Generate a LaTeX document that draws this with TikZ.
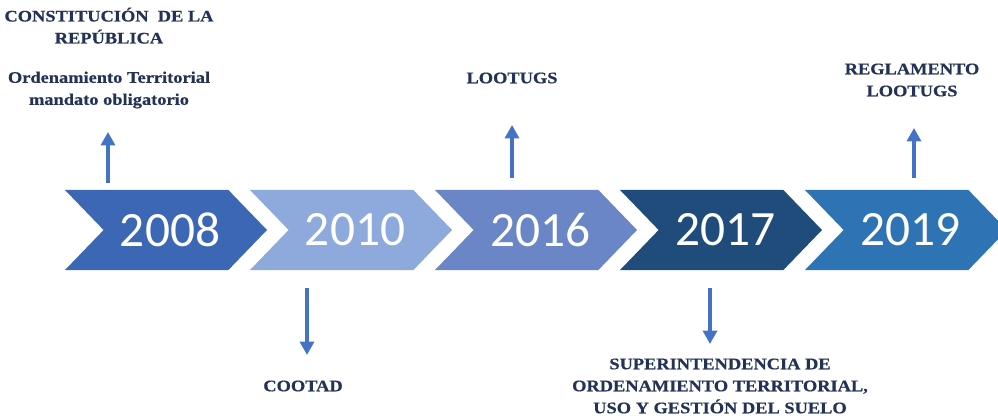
\documentclass[tikz,border=0pt]{standalone}
\usepackage{fontspec}
\setmainfont{Liberation Serif}
\newfontfamily\yearfont{Carlito}
\newfontfamily\labelfont[FakeStretch=1.14,FakeBold=0.6]{Liberation Serif Bold}
\usepackage{tikz}
\usetikzlibrary{arrows.meta,positioning,shapes.symbols}
\definecolor{tlblueA}{HTML}{3C67B5}
\definecolor{tlblueB}{HTML}{8EA9DB}
\definecolor{tlblueC}{HTML}{6A86C6}
\definecolor{tlnavy}{HTML}{1F4C7A}
\definecolor{tlblueE}{HTML}{2E74B5}
\definecolor{tlarrow}{HTML}{4472C4}
\definecolor{tltext}{HTML}{233256}

\begin{document}
\begin{tikzpicture}[
  x=0.75pt, y=-0.75pt,
  chevron/.style={signal, signal from=west, signal to=east, signal pointer angle=92,
    draw=none, inner sep=0pt, minimum width=151.5pt, minimum height=60pt,
    text=white, font=\yearfont\fontsize{37}{42}\selectfont},
  label/.style={align=center, text=tltext, inner sep=0pt,
    font=\labelfont\fontsize{12.1}{16.5}\selectfont},
  arrow/.style={-{Triangle[length=10pt,width=10.5pt]}, line width=2.3pt, draw=tlarrow}
]
\useasboundingbox (0,0) rectangle (998,420);
\node[chevron, fill=tlblueA] (y2008) at (166,230) {\hspace*{6pt}2008};
\node[chevron, fill=tlblueB] (y2010) at (351,230) {\hspace*{6pt}2010};
\node[chevron, fill=tlblueC] (y2016) at (536,230) {\hspace*{6pt}2016};
\node[chevron, fill=tlnavy] (y2017) at (721,230) {\hspace*{6pt}2017};
\node[chevron, fill=tlblueE] (y2019) at (906,230) {\hspace*{6pt}2019};

\node[label] (constitucion) at (109,58) {CONSTITUCIÓN \ DE LA\\REPÚBLICA\\[13pt]Ordenamiento Territorial\\mandato obligatorio};
\node[label] (cootad) at (303,386) {COOTAD};
\node[label] (lootugs) at (512,78) {LOOTUGS};
\node[label] (superint) at (720,386) {SUPERINTENDENCIA DE\\ORDENAMIENTO TERRITORIAL,\\USO Y GESTIÓN DEL SUELO};
\node[label] (reglamento) at (912,80) {REGLAMENTO\\LOOTUGS};

\coordinate (up1) at (108,183);
\coordinate (dn2) at (307,288);
\coordinate (up3) at (512,178);
\coordinate (dn4) at (710,288);
\coordinate (up5) at (914,178);
\draw[arrow] (up1) -- (up1 |- 0,132);
\draw[arrow] (dn2) -- (dn2 |- 0,355);
\draw[arrow] (up3) -- (up3 |- 0,125);
\draw[arrow] (dn4) -- (dn4 |- 0,344);
\draw[arrow] (up5) -- (up5 |- 0,128);
\end{tikzpicture}
\end{document}
